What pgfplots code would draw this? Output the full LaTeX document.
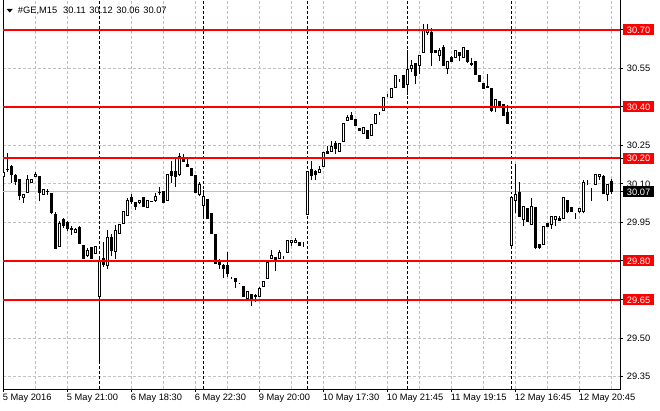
\documentclass[border=0pt]{standalone}
\usepackage{pgfplots}
\pgfplotsset{compat=1.18}
\usepackage{pgfplotstable}
\usepackage{fontspec}
\setmainfont{Liberation Sans}
\definecolor{silver}{HTML}{C0C0C0}

% #GE, M15 bars: index, open, high, low, close
\pgfplotstableread{
i o h l c
0 30.128 30.174 30.117 30.146
1 30.155 30.219 30.146 30.156
2 30.168 30.174 30.104 30.136
3 30.131 30.138 30.097 30.108
4 30.118 30.118 30.036 30.056
5 30.046 30.062 30.027 30.059
6 30.065 30.136 30.065 30.117
7 30.104 30.118 30.104 30.118
8 30.128 30.146 30.128 30.138
9 30.129 30.129 30.033 30.065
10 30.059 30.078 30.059 30.078
11 30.069 30.081 30.056 30.070
12 30.062 30.062 29.982 29.990
13 29.982 29.990 29.850 29.850
14 29.858 29.956 29.858 29.947
15 29.960 29.969 29.928 29.940
16 29.950 29.956 29.915 29.928
17 29.925 29.937 29.903 29.923
18 29.909 29.930 29.909 29.923
19 29.931 29.937 29.869 29.869
20 29.860 29.860 29.809 29.809
21 29.820 29.850 29.815 29.841
22 29.851 29.851 29.809 29.809
23 29.831 29.858 29.831 29.858
24 29.662 29.810 29.406 29.803
25 29.809 29.873 29.777 29.787
26 29.783 29.920 29.768 29.890
27 29.890 29.905 29.818 29.841
28 29.838 29.941 29.809 29.920
29 29.908 29.941 29.908 29.941
30 29.947 29.991 29.947 29.991
31 29.978 30.044 29.978 30.036
32 30.046 30.059 30.021 30.033
33 30.029 30.029 29.999 30.014
34 30.026 30.036 30.020 30.036
35 30.046 30.046 30.014 30.014
36 30.008 30.036 30.008 30.036
37 30.030 30.035 30.028 30.032
38 30.035 30.066 30.028 30.050
39 30.068 30.089 30.056 30.066
40 30.069 30.069 30.028 30.028
41 30.037 30.137 30.037 30.137
42 30.150 30.188 30.105 30.134
43 30.150 30.199 30.086 30.128
44 30.136 30.221 30.131 30.208
45 30.201 30.218 30.186 30.186
46 30.176 30.195 30.167 30.167
47 30.159 30.159 30.134 30.134
48 30.131 30.131 30.066 30.066
49 30.059 30.107 30.051 30.098
50 30.017 30.077 29.976 30.050
51 30.038 30.038 29.967 29.967
52 29.983 29.983 29.908 29.908
53 29.903 29.903 29.790 29.790
54 29.796 29.809 29.770 29.788
55 29.783 29.790 29.732 29.770
56 29.783 29.835 29.738 29.750
57 29.738 29.738 29.730 29.738
58 29.732 29.732 29.693 29.719
59 29.713 29.714 29.712 29.713
60 29.702 29.702 29.661 29.661
61 29.655 29.680 29.655 29.680
62 29.670 29.670 29.623 29.655
63 29.664 29.670 29.642 29.660
64 29.661 29.700 29.661 29.693
65 29.700 29.722 29.700 29.722
66 29.732 29.796 29.732 29.796
67 29.809 29.841 29.809 29.822
68 29.812 29.812 29.761 29.804
69 29.809 29.841 29.809 29.835
70 29.820 29.820 29.809 29.820
71 29.832 29.880 29.832 29.880
72 29.871 29.880 29.858 29.880
73 29.871 29.890 29.871 29.880
74 29.872 29.872 29.860 29.860
75 29.854 29.873 29.854 29.854
76 29.979 30.149 29.979 30.149
77 30.155 30.188 30.114 30.133
78 30.149 30.155 30.114 30.136
79 30.146 30.170 30.146 30.155
80 30.166 30.221 30.166 30.221
81 30.227 30.247 30.218 30.218
82 30.226 30.267 30.226 30.247
83 30.258 30.267 30.218 30.237
84 30.226 30.258 30.226 30.258
85 30.264 30.336 30.264 30.336
86 30.347 30.370 30.347 30.360
87 30.368 30.378 30.349 30.349
88 30.349 30.349 30.328 30.328
89 30.316 30.316 30.307 30.307
90 30.297 30.318 30.297 30.318
91 30.309 30.309 30.277 30.277
92 30.290 30.330 30.290 30.330
93 30.336 30.369 30.336 30.369
94 30.378 30.379 30.368 30.378
95 30.387 30.438 30.387 30.438
96 30.450 30.451 30.437 30.450
97 30.438 30.470 30.438 30.470
98 30.477 30.521 30.477 30.521
99 30.509 30.510 30.496 30.509
100 30.521 30.521 30.477 30.477
101 30.488 30.620 30.446 30.544
102 30.548 30.581 30.535 30.561
103 30.568 30.568 30.489 30.522
104 30.561 30.598 30.529 30.598
105 30.611 30.721 30.611 30.700
106 30.690 30.721 30.679 30.700
107 30.690 30.705 30.559 30.611
108 30.620 30.620 30.611 30.611
109 30.598 30.629 30.578 30.620
110 30.631 30.641 30.559 30.559
111 30.548 30.578 30.526 30.578
112 30.591 30.598 30.578 30.578
113 30.591 30.618 30.591 30.618
114 30.611 30.611 30.578 30.598
115 30.591 30.631 30.591 30.631
116 30.620 30.620 30.570 30.578
117 30.570 30.591 30.559 30.566
118 30.578 30.578 30.526 30.526
119 30.522 30.522 30.500 30.500
120 30.491 30.491 30.470 30.470
121 30.478 30.529 30.477 30.477
122 30.470 30.470 30.378 30.386
123 30.400 30.430 30.378 30.430
124 30.419 30.419 30.402 30.402
125 30.408 30.408 30.365 30.366
126 30.379 30.408 30.335 30.335
127 29.862 30.046 29.862 30.046
128 30.035 30.178 29.985 30.057
129 30.066 30.107 29.975 29.975
130 29.963 30.014 29.936 30.014
131 30.006 30.006 29.955 29.955
132 29.943 30.047 29.943 30.014
133 30.009 30.009 29.845 29.854
134 29.866 29.866 29.845 29.852
135 29.865 29.936 29.865 29.936
136 29.945 29.945 29.936 29.936
137 29.943 29.975 29.925 29.975
138 29.963 29.975 29.936 29.975
139 29.966 29.975 29.957 29.957
140 29.964 30.046 29.964 30.046
141 30.036 30.036 29.985 29.994
142 30.009 30.009 29.994 29.994
143 29.988 29.988 29.963 29.988
144 29.994 30.006 29.985 30.006
145 29.994 30.116 29.985 30.107
146 30.097 30.116 30.097 30.097
147 30.085 30.085 30.035 30.085
148 30.097 30.135 30.097 30.135
149 30.127 30.135 30.116 30.135
150 30.129 30.135 30.064 30.064
151 30.057 30.097 30.035 30.097
152 30.110 30.120 30.060 30.070
}\candles

\newcommand{\plab}[1]{\hspace{3.7pt}#1}
\newcommand{\boxlab}[2]{{\setlength{\fboxsep}{0pt}\colorbox{#1}{\rule[-2pt]{0pt}{11pt}\hspace{3.7pt}\textcolor{white}{#2}\hspace{3.8pt}}}}

\pgfplotsset{
  mtframe/.style={
    at={(3pt,21pt)}, anchor=south west,
    scale only axis, width=617pt, height=390pt,
    xmin=-0.175, xmax=154.075, ymin=29.3019, ymax=30.8195,
    enlargelimits=false,
  },
}

\begin{document}
\begin{tikzpicture}
\path[use as bounding box] (0,0) rectangle (660pt,410pt);

\begin{axis}[
    mtframe,
    axis line style={black, line width=1pt},
    tick align=outside,
    major tick length=3pt,
    minor tick length=0pt,
    tick style={black, line width=1pt},
    xtick pos=bottom,
    ytick pos=right,
    yticklabel pos=right,
    xtick={0,16,...,144},
    minor xtick={8,24,...,152},
    xticklabels={5 May 2016, 5 May 21:00, 6 May 18:30, 6 May 22:30, 9 May 20:00, 10 May 17:30, 10 May 21:45, 11 May 19:15, 12 May 16:45, 12 May 20:45},
    ytick={29.35,29.5,29.65,29.8,29.95,30.1,30.25,30.4,30.55,30.7},
    yticklabels={\plab{29.35},\plab{29.50},{},{},\plab{29.95},\plab{30.10},\plab{30.25},{},\plab{30.55},{}},
    extra y ticks={29.65,29.8,30.07,30.2,30.4,30.7},
    extra y tick labels={\boxlab{red}{29.65},\boxlab{red}{29.80},\boxlab{black}{30.07},\boxlab{red}{30.20},\boxlab{red}{30.40},\boxlab{red}{30.70}},
    extra y tick style={grid=none},
    extra x ticks={24,50,76,101,127},
    extra x tick labels={},
    extra x tick style={major tick length=0pt, grid=major, major grid style={black, line width=1pt, dash pattern=on 3pt off 2pt}},
    grid=both,
    major grid style={silver, line width=1pt, dash pattern=on 3pt off 2pt},
    minor grid style={silver, line width=1pt, dash pattern=on 3pt off 2pt},
    ticklabel style={font=\fontsize{9.3pt}{10pt}\selectfont},
    xticklabel style={anchor=north west, inner sep=0pt, xshift=-1pt, yshift=-1.5pt},
    yticklabel style={anchor=west, inner sep=0pt},
  ]
  % bid line
  \addplot[silver, line width=1pt] coordinates {(-0.175,30.07) (154.075,30.07)};
  % wicks
  \addplot[draw=none, mark=none,
    error bars/.cd, y dir=plus, y explicit, error mark=none,
    error bar style={draw=black, line width=1pt, solid}]
    table[x=i, y=l, y error expr=\thisrow{h}-\thisrow{l}] {\candles};
\end{axis}

% candle bodies
\begin{axis}[mtframe, hide axis, ybar stacked, bar width=0.5]
  \addplot[draw=none, fill=none] table[x=i, y expr={min(\thisrow{o},\thisrow{c})}] {\candles};
  \addplot[draw=black, fill=white, line width=1pt] table[x=i, y expr={max(\thisrow{c}-\thisrow{o},0)}] {\candles};
  \addplot[draw=black, fill=black, line width=1pt] table[x=i, y expr={max(\thisrow{o}-\thisrow{c},0)}] {\candles};
\end{axis}

% horizontal levels
\begin{axis}[mtframe, hide axis]
  \addplot[red, line width=2pt] coordinates {(-0.175,30.70) (154.075,30.70)};
  \addplot[red, line width=2pt] coordinates {(-0.175,30.40) (154.075,30.40)};
  \addplot[red, line width=2pt] coordinates {(-0.175,30.20) (154.075,30.20)};
  \addplot[red, line width=2pt] coordinates {(-0.175,29.80) (154.075,29.80)};
  \addplot[red, line width=2pt] coordinates {(-0.175,29.65) (154.075,29.65)};
\end{axis}

\fill (6.7pt,401pt) -- (12.7pt,401pt) -- (9.7pt,397.5pt) -- cycle;
\node[anchor=west, inner sep=0pt, font=\fontsize{9.3pt}{10pt}\selectfont] at (17.7pt,399.5pt)
  {\#GE,M15\hspace{6pt}30.11\hspace{3.7pt}30.12\hspace{3.7pt}30.06\hspace{3.7pt}30.07};
\end{tikzpicture}
\end{document}
